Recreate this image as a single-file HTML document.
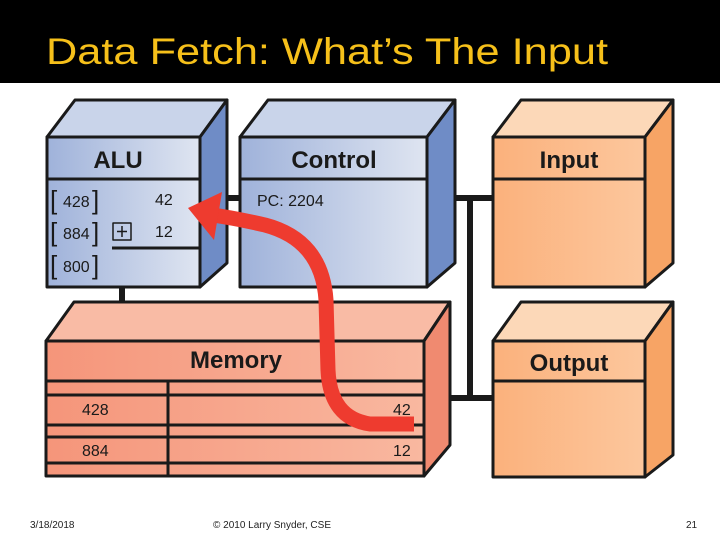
<!DOCTYPE html>
<html><head><meta charset="utf-8"><style>html,body{margin:0;padding:0;background:#fff;}svg{display:block}</style></head>
<body>
<svg width="720" height="540" viewBox="0 0 720 540" xmlns="http://www.w3.org/2000/svg" font-family="Liberation Sans, sans-serif">
<defs>
<linearGradient id="bf" x1="0" x2="1"><stop offset="0" stop-color="#9fb2da"/><stop offset="1" stop-color="#dfe5f1"/></linearGradient>
<linearGradient id="of" x1="0" x2="1"><stop offset="0" stop-color="#fbb17c"/><stop offset="1" stop-color="#fcc79d"/></linearGradient>
<linearGradient id="mf" x1="0" x2="1"><stop offset="0" stop-color="#f5957a"/><stop offset="1" stop-color="#f9b8a0"/></linearGradient>
</defs>
<rect x="0" y="0" width="720" height="83" fill="#000"/>
<text x="46" y="64" font-size="37" fill="#f6c01a" textLength="562" lengthAdjust="spacingAndGlyphs">Data Fetch: What’s The Input</text>

<g stroke="#1a1a1a" stroke-width="3" stroke-linejoin="round">
<!-- connectors -->
<line x1="122" y1="288" x2="122" y2="320" stroke-width="6" stroke-linecap="round"/>
<line x1="212" y1="198" x2="240" y2="198" stroke-width="6" stroke-linecap="round"/>
<line x1="455" y1="198" x2="493" y2="198" stroke-width="6" stroke-linecap="round"/>
<line x1="470" y1="198" x2="470" y2="398" stroke-width="6"/>
<line x1="436" y1="398" x2="493" y2="398" stroke-width="6" stroke-linecap="round"/>

<!-- ALU -->
<polygon points="47,137 75,100 227,100 200,137" fill="#c9d4ea"/>
<polygon points="200,137 227,100 227,263 200,287" fill="#6f8cc6"/>
<rect x="47" y="137" width="153" height="150" fill="url(#bf)"/>
<line x1="47" y1="179" x2="200" y2="179"/>
<line x1="112" y1="248" x2="200" y2="248"/>
<rect x="113" y="223" width="18" height="17" fill="none" stroke-width="1.5"/>
<line x1="117" y1="231.5" x2="127" y2="231.5" stroke-width="1.5"/>
<line x1="122" y1="226" x2="122" y2="237" stroke-width="1.5"/>

<!-- Control -->
<polygon points="240,137 268,100 455,100 427,137" fill="#c9d4ea"/>
<polygon points="427,137 455,100 455,263 427,287" fill="#6f8cc6"/>
<rect x="240" y="137" width="187" height="150" fill="url(#bf)"/>
<line x1="240" y1="179" x2="427" y2="179"/>

<!-- Input -->
<polygon points="493,137 521,100 673,100 645,137" fill="#fcd8b8"/>
<polygon points="645,137 673,100 673,263 645,287" fill="#f7a465"/>
<rect x="493" y="137" width="152" height="150" fill="url(#of)"/>
<line x1="493" y1="179" x2="645" y2="179"/>

<!-- Output -->
<polygon points="493,341 521,302 673,302 645,341" fill="#fcd8b8"/>
<polygon points="645,341 673,302 673,455 645,477" fill="#f7a465"/>
<rect x="493" y="341" width="152" height="136" fill="url(#of)"/>
<line x1="493" y1="381" x2="645" y2="381"/>

<!-- Memory -->
<polygon points="46,341 74,302 450,302 424,341" fill="#f9bba5"/>
<polygon points="424,341 450,302 450,445 424,476" fill="#f08a70"/>
<rect x="46" y="341" width="378" height="135" fill="url(#mf)"/>
<line x1="46" y1="381" x2="424" y2="381"/>
<line x1="46" y1="395" x2="424" y2="395"/>
<line x1="46" y1="425" x2="424" y2="425"/>
<line x1="46" y1="437" x2="424" y2="437"/>
<line x1="46" y1="463" x2="424" y2="463"/>
<line x1="168" y1="381" x2="168" y2="476"/>
</g>

<!-- red arrow -->
<path d="M414,424 L370,424 Q330,418 328,370 L326,300 Q322,240 265,225 Q235,218 206,214" fill="none" stroke="#ee3b2f" stroke-width="15"/>
<polygon points="188,208 222,192 214,240" fill="#ee3b2f"/>

<g font-weight="bold" fill="#1a1a1a" font-size="24" text-anchor="middle">
<text x="118" y="168">ALU</text>
<text x="334" y="168">Control</text>
<text x="569" y="168">Input</text>
<text x="569" y="371">Output</text>
<text x="236" y="368">Memory</text>
</g>
<g fill="#1a1a1a" font-size="16">
<text x="63" y="207">428</text>
<text x="63" y="239">884</text>
<text x="63" y="272">800</text>
<text x="155" y="205">42</text>
<text x="155" y="237">12</text>
<text x="257" y="206">PC: 2204</text>
<text x="82" y="415">428</text>
<text x="82" y="456">884</text>
<text x="393" y="415">42</text>
<text x="393" y="456">12</text>
</g>
<g fill="#1a1a1a" font-size="26" font-weight="300">
<text x="50" y="209">[</text><text x="92" y="209">]</text>
<text x="50" y="241">[</text><text x="92" y="241">]</text>
<text x="50" y="274">[</text><text x="92" y="274">]</text>
</g>
<g fill="#222" font-size="10">
<text x="30" y="528">3/18/2018</text>
<text x="213" y="528">© 2010 Larry Snyder, CSE</text>
<text x="686" y="528">21</text>
</g>
</svg>
</body></html>
